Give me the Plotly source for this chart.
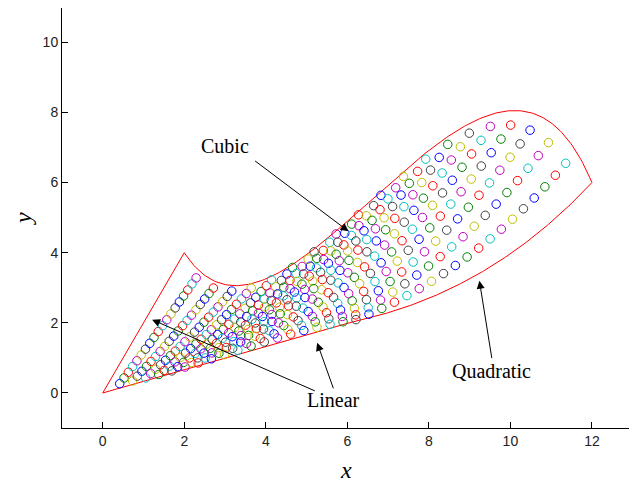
import numpy as np
import plotly.graph_objects as go

# Edge definitions of the four-sided region (0,0)-(6.2,2.05)-(12,6)-(2,4)
linear_left = [(0.0, 0.0), (2.0, 4.0)]            # left edge, straight
linear_bottom = [(0.0, 0.0), (6.2, 2.05)]         # bottom edge, straight
quadratic_nodes = [(6.2, 2.05), (9.3, 3.45), (12.0, 6.0)]      # right edge, Lagrange nodes t=0,.5,1
cubic_ctrl = [(2.0, 4.0), (4.5, -0.5), (9.5, 13.0), (12.0, 6.0)]  # top edge, Bezier control points

n_u = 19   # interior grid lines across
n_v = 19   # interior grid lines up

matlab_colors = ["rgb(0,0,255)", "rgb(0,128,0)", "rgb(255,0,0)", "rgb(0,191,191)",
                 "rgb(191,0,191)", "rgb(191,191,0)", "rgb(64,64,64)"]

x_ticks = [0, 2, 4, 6, 8, 10, 12]
y_ticks = [0, 2, 4, 6, 8, 10]


def line_edge(p, t):
    p = np.asarray(p)
    return np.outer(1 - t, p[0]) + np.outer(t, p[1])


def quad_edge(p, t):
    p = np.asarray(p)
    l0 = 2 * (t - 0.5) * (t - 1)
    l1 = -4 * t * (t - 1)
    l2 = 2 * t * (t - 0.5)
    return np.outer(l0, p[0]) + np.outer(l1, p[1]) + np.outer(l2, p[2])


def cubic_edge(p, t):
    p = np.asarray(p)
    b = [(1 - t) ** 3, 3 * (1 - t) ** 2 * t, 3 * (1 - t) * t ** 2, t ** 3]
    return sum(np.outer(bk, pk) for bk, pk in zip(b, p))


def coons(u, v):
    u = np.atleast_1d(u)
    v = np.atleast_1d(v)
    bot = line_edge(linear_bottom, u)
    top = cubic_edge(cubic_ctrl, u)
    left = line_edge(linear_left, v)
    right = quad_edge(quadratic_nodes, v)
    A = np.array(linear_left[0]); B = np.array(linear_bottom[1])
    C = np.array(cubic_ctrl[3]); D = np.array(linear_left[1])
    uu = u[:, None]; vv = v[:, None]
    return ((1 - vv) * bot + vv * top + (1 - uu) * left + uu * right
            - ((1 - uu) * (1 - vv) * A + uu * (1 - vv) * B + (1 - uu) * vv * D + uu * vv * C))


# interior mesh points, outer loop across, inner loop up
px, py, pc = [], [], []
k = 0
for i in range(1, n_u + 1):
    u = i / (n_u + 1)
    for j in range(1, n_v + 1):
        v = j / (n_v + 1)
        p = coons(u, v)[0]
        px.append(p[0]); py.append(p[1])
        pc.append(matlab_colors[k % 7])
        k += 1

fig = go.Figure()

# boundary
s = np.linspace(0, 1, 200)
edges = [line_edge(linear_left, s), cubic_edge(cubic_ctrl, s),
         quad_edge(quadratic_nodes, s)[::-1], line_edge(linear_bottom, s)[::-1]]
bx = np.concatenate([e[:, 0] for e in edges])
by = np.concatenate([e[:, 1] for e in edges])
fig.add_trace(go.Scatter(x=bx, y=by, mode="lines", line=dict(color="rgb(255,0,0)", width=1),
                         hoverinfo="skip", showlegend=False))

fig.add_trace(go.Scatter(x=px, y=py, mode="markers",
                         marker=dict(symbol="circle-open", size=8.5, color=pc, line=dict(width=1)),
                         showlegend=False))

serif = "Liberation Serif, Times New Roman, serif"

# labels and arrows
labels = [("Cubic", 3.01, 7.03), ("Linear", 5.66, -0.19), ("Quadratic", 9.53, 0.64)]
for txt, lx, ly in labels:
    fig.add_annotation(x=lx, y=ly, text=txt, showarrow=False,
                       font=dict(family=serif, size=20, color="black"))

arrows = [((6.03, 4.61), (3.70, 6.65)),
          ((1.21, 2.09), (5.24, 0.04)),
          ((5.26, 1.43), (5.67, 0.09)),
          ((9.24, 3.20), (9.55, 0.95))]
for (tx, ty), (sx, sy) in arrows:
    fig.add_annotation(x=tx, y=ty, ax=sx, ay=sy, axref="x", ayref="y", text="",
                       showarrow=True, arrowhead=2, arrowsize=1.6, arrowwidth=1,
                       arrowcolor="black", standoff=0)

fig.add_annotation(x=0.5, y=-0.1, xref="paper", yref="paper", text="<i>x</i>",
                   xanchor="center", yanchor="middle",
                   showarrow=False, font=dict(family=serif, size=24, color="black"))
fig.add_annotation(x=-0.069, y=0.5, xref="paper", yref="paper", text="<i>y</i>",
                   xanchor="center", yanchor="middle",
                   textangle=-90, showarrow=False, font=dict(family=serif, size=24, color="black"))

axis_common = dict(showline=True, linecolor="black", linewidth=1, ticks="inside", ticklen=6,
                   tickcolor="black", showgrid=False, zeroline=False, mirror=False,
                   tickfont=dict(family="Liberation Sans, Arial, sans-serif", size=14, color="#222"))

fig.update_layout(
    width=629, height=485,
    margin=dict(l=62, r=0, t=8, b=57),
    plot_bgcolor="white", paper_bgcolor="white",
    xaxis=dict(range=[-1, 12.91], tickvals=x_ticks, **axis_common),
    yaxis=dict(range=[-1, 10.98], tickvals=y_ticks, **axis_common),
)

fig.write_html("out.html")
